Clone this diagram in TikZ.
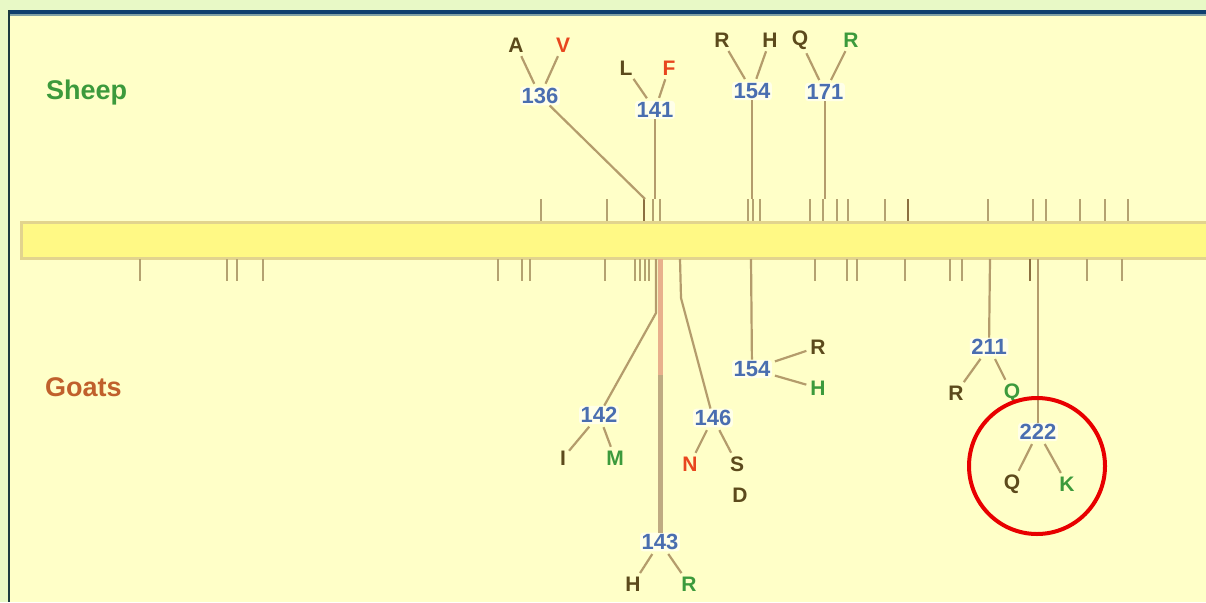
\documentclass[tikz,border=0pt]{standalone}
\usepackage{fontspec}
\setmainfont{Liberation Sans}
\definecolor{outerbg}{HTML}{E8F9C6}
\definecolor{panel}{HTML}{FFFFC8}
\definecolor{navy}{HTML}{0E3F6E}
\definecolor{greyblue}{HTML}{7FA0A4}
\definecolor{leftdark}{HTML}{1A3A40}
\definecolor{barfill}{HTML}{FFF985}
\definecolor{barline}{HTML}{E2D48E}
\definecolor{numblue}{HTML}{4A6EB0}
\definecolor{dkb}{HTML}{5C4A1C}
\definecolor{redl}{HTML}{E8461E}
\definecolor{grl}{HTML}{3C9A3C}
\definecolor{goatc}{HTML}{C0602C}
\definecolor{linetan}{HTML}{B49C6C}
\definecolor{ticktan}{HTML}{B4A270}
\definecolor{tickdark}{HTML}{8C7040}
\definecolor{salmon}{HTML}{E8B08C}
\definecolor{circred}{HTML}{E80000}
\begin{document}
\begin{tikzpicture}[x=1pt,y=-1pt,
  num/.style={font=\fontsize{22}{22}\selectfont\bfseries, text=numblue, fill=white, fill opacity=0.6, text opacity=1, rounded corners=3pt, inner sep=1.5pt},
  let/.style={font=\fontsize{21}{21}\selectfont\bfseries, inner sep=1pt},
  br/.style={draw=linetan, line width=2.2pt, shorten >=3pt, shorten <=3pt},
  stem/.style={draw=linetan, line width=2.2pt},
  tick/.style={draw=ticktan, line width=2.2pt},
  tickd/.style={draw=tickdark, line width=2.6pt},
  spec/.style={font=\fontsize{27}{27}\selectfont\bfseries, anchor=west, inner sep=0pt}
]
\useasboundingbox (0,0) rectangle (1206,602);
\fill[outerbg] (0,0) rectangle (1206,602);
\fill[panel] (10,16) rectangle (1206,602);
\fill[navy] (8,10) rectangle (1206,14);
\fill[greyblue] (10,14) rectangle (1206,16);
\fill[leftdark] (8,10) rectangle (10,602);

% chromosome bar
\draw[draw=barline, line width=3pt, fill=barfill] (21,222) rectangle (1212,258);

% ticks above
\foreach \x in {541,607,653,660,748,753,760,810,823,837,848,885,988,1033,1046,1080,1105,1128}
  \draw[tick] (\x,199) -- (\x,221);
\foreach \x in {644,908}
  \draw[tickd] (\x,199) -- (\x,221);
% ticks below
\foreach \x in {140,227,237,263,498,522,530,605,635,640,645,649,815,847,857,905,950,962,1038,1087,1122}
  \draw[tick] (\x,259) -- (\x,281);
\foreach \x in {1030}
  \draw[tickd] (\x,259) -- (\x,281);

% species labels
\node[spec, text=grl] (sheep) at (46,93) {Sheep};
\node[spec, text=goatc] (goats) at (45,387) {Goats};

% ---- Sheep side ----
\node[num] (s136) at (540,96) {136};
\node[let, text=dkb] (s136a) at (516,45) {A};
\node[let, text=redl] (s136v) at (563,45) {V};
\draw[br] (s136a) -- (s136);
\draw[br] (s136v) -- (s136);
\coordinate (b136) at (645,199);
\draw[stem] (s136) -- (b136);

\node[num] (s141) at (655,110) {141};
\node[let, text=dkb] (s141l) at (626,68) {L};
\node[let, text=redl] (s141f) at (669,68) {F};
\draw[br] (s141l) -- (s141);
\draw[br] (s141f) -- (s141);
\coordinate (b141) at (655,199);
\draw[stem] (s141) -- (b141);

\node[num] (s154) at (752,91) {154};
\node[let, text=dkb] (s154r) at (722,40) {R};
\node[let, text=dkb] (s154h) at (770,40) {H};
\draw[br] (s154r) -- (s154);
\draw[br] (s154h) -- (s154);
\coordinate (b154) at (752,199);
\draw[stem] (s154) -- (b154);

\node[num] (s171) at (825,92) {171};
\node[let, text=dkb] (s171q) at (800,40) {Q};
\node[let, text=grl] (s171r) at (851,40) {R};
\draw[br] (s171q) -- (s171);
\draw[br] (s171r) -- (s171);
\coordinate (b171) at (825,199);
\draw[stem] (s171) -- (b171);

% ---- Goat side ----
\node[num] (g143) at (660,542) {143};
\coordinate (b143) at (660,259);
\coordinate (m143) at (660,375);
\draw[draw=salmon, line width=5pt] (b143) -- (m143);
\draw[draw=linetan!85!white, line width=5pt] (m143) -- (g143);
\node[let, text=dkb] (g143h) at (633,584) {H};
\node[let, text=grl] (g143r) at (689,584) {R};
\draw[br] (g143) -- (g143h);
\draw[br] (g143) -- (g143r);

\node[num] (g142) at (599,415) {142};
\coordinate (b142) at (656,259);
\coordinate (k142) at (656,313);
\draw[stem] (g142) -- (k142) -- (b142);
\node[let, text=dkb] (g142i) at (563,458) {I};
\node[let, text=grl] (g142m) at (615,458) {M};
\draw[br] (g142) -- (g142i);
\draw[br] (g142) -- (g142m);

\node[num] (g146) at (713,418) {146};
\coordinate (b146) at (680,259);
\coordinate (k146) at (681,298);
\draw[stem] (g146) -- (k146) -- (b146);
\node[let, text=redl] (g146n) at (690,464) {N};
\node[let, text=dkb] (g146s) at (737,464) {S};
\node[let, text=dkb] (g146d) at (740,495) {D};
\draw[br] (g146) -- (g146n);
\draw[br] (g146) -- (g146s);

\node[num] (g154) at (752,369) {154};
\coordinate (b154g) at (751,259);
\draw[stem] (g154) -- (b154g);
\node[let, text=dkb] (g154r) at (818,347) {R};
\node[let, text=grl] (g154h) at (818,388) {H};
\draw[br] (g154) -- (g154r);
\draw[br] (g154) -- (g154h);

\node[num] (g211) at (989,347) {211};
\coordinate (b211) at (990,259);
\draw[stem] (b211) -- (g211);
\node[let, text=dkb] (g211r) at (956,393) {R};
\node[let, text=grl] (g211q) at (1012,393) {Q};
\draw[br] (g211) -- (g211r);
\draw[br] (g211) -- (g211q);

\node[num] (g222) at (1038,432) {222};
\coordinate (b222) at (1038,259);
\draw[stem] (b222) -- (g222);
\node[let, text=dkb] (g222q) at (1012,484) {Q};
\node[let, text=grl] (g222k) at (1067,484) {K};
\draw[br] (g222) -- (g222q);
\draw[br] (g222) -- (g222k);

\node[circle, draw=circred, line width=4pt, minimum size=136pt, inner sep=0pt] (hl) at (1037,466) {};
\end{tikzpicture}
\end{document}
